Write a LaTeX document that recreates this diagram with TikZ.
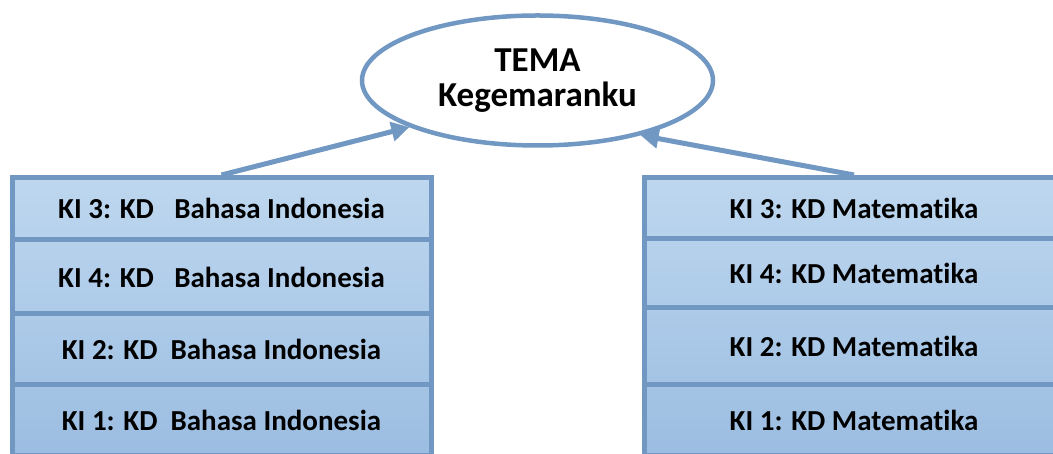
\documentclass[tikz,border=0pt]{standalone}
\usepackage{fontspec}
\setmainfont{Carlito}[Ligatures=NoCommon]
\usetikzlibrary{arrows.meta,shapes.geometric}

\definecolor{kiline}{RGB}{112,152,195}
\definecolor{kitop}{RGB}{190,215,239}
\definecolor{kibot}{RGB}{155,189,225}

\begin{document}
\begin{tikzpicture}[x=1pt,y=1pt,
    kirow/.style={rectangle, draw=kiline, line width=5pt, minimum width=419pt,
      inner sep=0pt, font=\fontsize{29}{32}\selectfont\bfseries},
    tema/.style={ellipse, draw=kiline, line width=4.5pt, fill=white,
      minimum width=351pt, minimum height=130pt, inner sep=0pt, align=center,
      font=\fontsize{35}{35}\selectfont\bfseries},
    kiarrow/.style={draw=kiline, line width=5pt, -{Triangle[length=18pt,width=19pt]}}]
    \useasboundingbox (0,0) rectangle (1053,454);
    \clip (0,0) rectangle (1053,454);

    % left stack
    \node[kirow, minimum height=62.5pt, top color=kitop, bottom color=kibot!22!kitop]
      (li3) at (221.5,245.25) {KI 3: KD\hspace{0.7em}Bahasa Indonesia};
    \node[kirow, minimum height=74pt, top color=kibot!22!kitop, bottom color=kibot!48!kitop]
      (li4) at (221.5,177) {KI 4: KD\hspace{0.7em}Bahasa Indonesia};
    \node[kirow, minimum height=71pt, top color=kibot!48!kitop, bottom color=kibot!74!kitop]
      (li2) at (221.5,104.5) {KI 2: KD\hspace{0.45em}Bahasa Indonesia};
    \node[kirow, minimum height=71pt, top color=kibot!74!kitop, bottom color=kibot]
      (li1) at (221.5,33.5) {KI 1: KD\hspace{0.45em}Bahasa Indonesia};

    % right stack
    \node[kirow, minimum height=61.5pt, top color=kitop, bottom color=kibot!22!kitop]
      (rm3) at (854,245.75) {KI 3: KD Matematika};
    \node[kirow, minimum height=69pt, top color=kibot!22!kitop, bottom color=kibot!48!kitop]
      (rm4) at (854,180.5) {KI 4: KD Matematika};
    \node[kirow, minimum height=77pt, top color=kibot!48!kitop, bottom color=kibot!74!kitop]
      (rm2) at (854,107.5) {KI 2: KD Matematika};
    \node[kirow, minimum height=71pt, top color=kibot!74!kitop, bottom color=kibot]
      (rm1) at (854,33.5) {KI 1: KD Matematika};

    % theme
    \node[tema] (tm) at (537.5,373.5) {TEMA\\Kegemaranku};

    \draw[kiarrow] (li3.north) -- (tm.200);
    \draw[kiarrow] (rm3.north) -- (tm.332);
\end{tikzpicture}
\end{document}
